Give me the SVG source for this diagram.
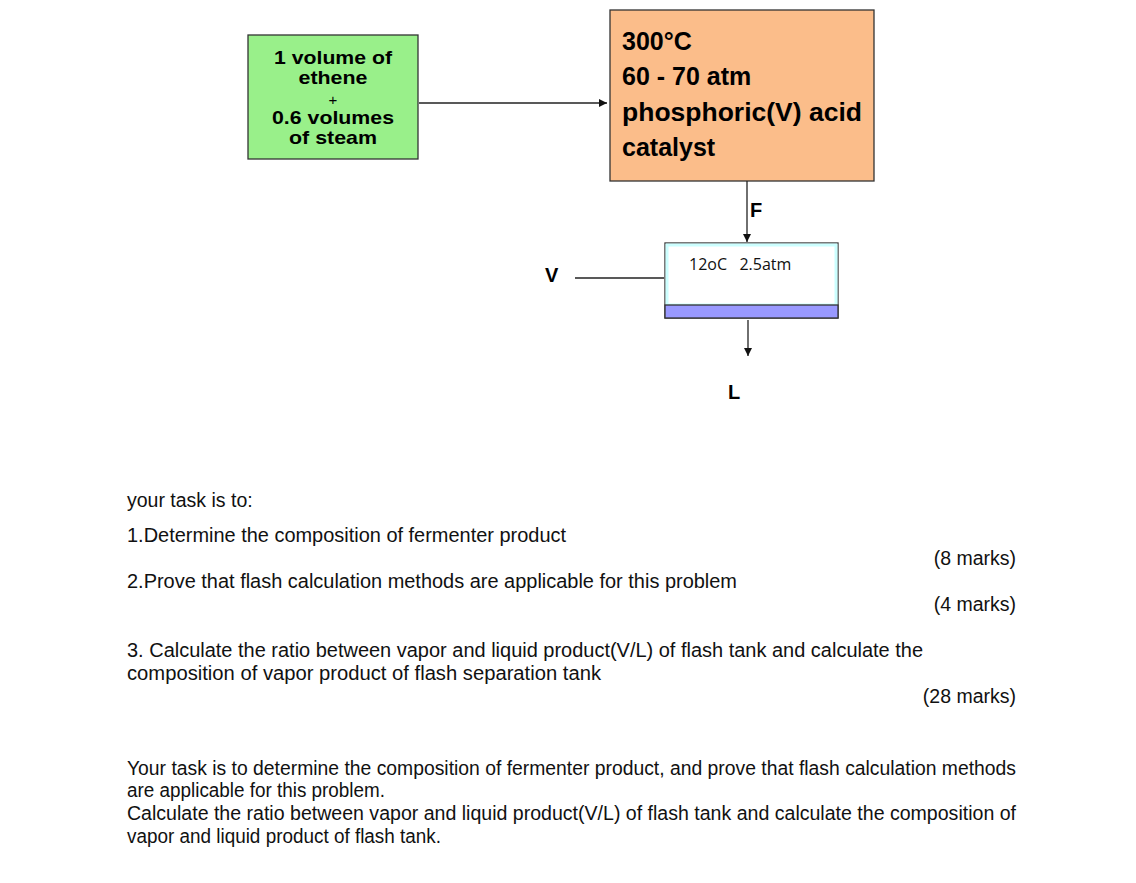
<svg xmlns="http://www.w3.org/2000/svg" width="1136" height="883" viewBox="0 0 1136 883">
<style>
.b{font-family:"Liberation Sans",Arial,sans-serif;font-weight:bold;fill:#000}
.t{font-family:"Liberation Sans",Arial,sans-serif;font-size:19.5px;fill:#111}
.c{stroke:#222;stroke-width:1.3;fill:none}
</style>
<defs><marker id="a" viewBox="0 0 10 10" refX="10" refY="5" markerWidth="8" markerHeight="8" orient="auto" markerUnits="userSpaceOnUse"><path d="M0,0L10,5L0,10z" fill="#111"/></marker></defs>
<rect width="1136" height="883" fill="#fff"/>
<g id="feed">
<rect x="248" y="35" width="170" height="124" fill="#99f08a" stroke="#333" stroke-width="1.3"/>
<text class="b" font-size="19" text-anchor="middle"><tspan x="333" y="64" textLength="118" lengthAdjust="spacingAndGlyphs">1 volume of</tspan><tspan x="333" y="84" textLength="69" lengthAdjust="spacingAndGlyphs">ethene</tspan><tspan x="333" y="105" font-weight="normal" font-size="15">+</tspan><tspan x="333" y="124" textLength="122" lengthAdjust="spacingAndGlyphs">0.6 volumes</tspan><tspan x="333" y="144" textLength="88" lengthAdjust="spacingAndGlyphs">of steam</tspan></text>
</g>
<g id="reactor">
<rect x="610" y="10" width="264" height="171" fill="#fbbd8a" stroke="#333" stroke-width="1.3"/>
<text class="b" font-size="25"><tspan x="622" y="50">300°C</tspan><tspan x="622" y="85">60 - 70 atm</tspan><tspan x="622" y="121" textLength="240" lengthAdjust="spacingAndGlyphs">phosphoric(V) acid</tspan><tspan x="622" y="156">catalyst</tspan></text>
</g>
<g id="tank">
<rect x="665" y="243" width="173" height="75" fill="#fff" stroke="#333" stroke-width="1.3"/>
<rect x="667" y="245" width="169" height="60" fill="none" stroke="#ccffff" stroke-width="3"/>
<rect x="665" y="305" width="173" height="13" fill="#9999ff" stroke="#333" stroke-width="1.3"/>
<text x="689" y="270" xml:space="preserve" font-family="'Open Sans','DejaVu Sans',sans-serif" font-size="16" fill="#111">12oC   2.5atm</text>
</g>
<g id="connectors">
<line class="c" x1="419" y1="103" x2="607" y2="103" marker-end="url(#a)"/>
<line class="c" x1="747" y1="181" x2="747" y2="242" marker-end="url(#a)"/>
<line class="c" x1="575" y1="278" x2="664" y2="278"/>
<line class="c" x1="748" y1="320" x2="748" y2="356" marker-end="url(#a)"/>
</g>
<g id="labels">
<text class="b" x="750" y="217" font-size="20">F</text>
<text class="b" x="545" y="282" font-size="20">V</text>
<text class="b" x="728" y="399" font-size="20">L</text>
</g>
<g id="text">
<text class="t" x="127" y="507">your task is to:</text>
<text class="t" x="127" y="542" textLength="439" lengthAdjust="spacingAndGlyphs">1.Determine the composition of fermenter product</text>
<text class="t" x="1016" y="565" text-anchor="end">(8 marks)</text>
<text class="t" x="127" y="588" textLength="610" lengthAdjust="spacingAndGlyphs">2.Prove that flash calculation methods are applicable for this problem</text>
<text class="t" x="1016" y="611" text-anchor="end">(4 marks)</text>
<text class="t" x="127" y="657" textLength="796" lengthAdjust="spacingAndGlyphs">3. Calculate the ratio between vapor and liquid product(V/L) of flash tank and calculate the</text>
<text class="t" x="127" y="680" textLength="474" lengthAdjust="spacingAndGlyphs">composition of vapor product of flash separation  tank</text>
<text class="t" x="1016" y="703" text-anchor="end">(28 marks)</text>
<text class="t" x="127" y="775" textLength="889" lengthAdjust="spacingAndGlyphs">Your task is to determine the composition of fermenter product, and prove that flash calculation methods</text>
<text class="t" x="127" y="797" textLength="258" lengthAdjust="spacingAndGlyphs">are applicable for this problem.</text>
<text class="t" x="127" y="820" textLength="889" lengthAdjust="spacingAndGlyphs">Calculate the ratio between vapor and liquid product(V/L) of flash tank and calculate the composition of</text>
<text class="t" x="127" y="843" textLength="314" lengthAdjust="spacingAndGlyphs">vapor and liquid product of flash tank.</text>
</g>
</svg>
